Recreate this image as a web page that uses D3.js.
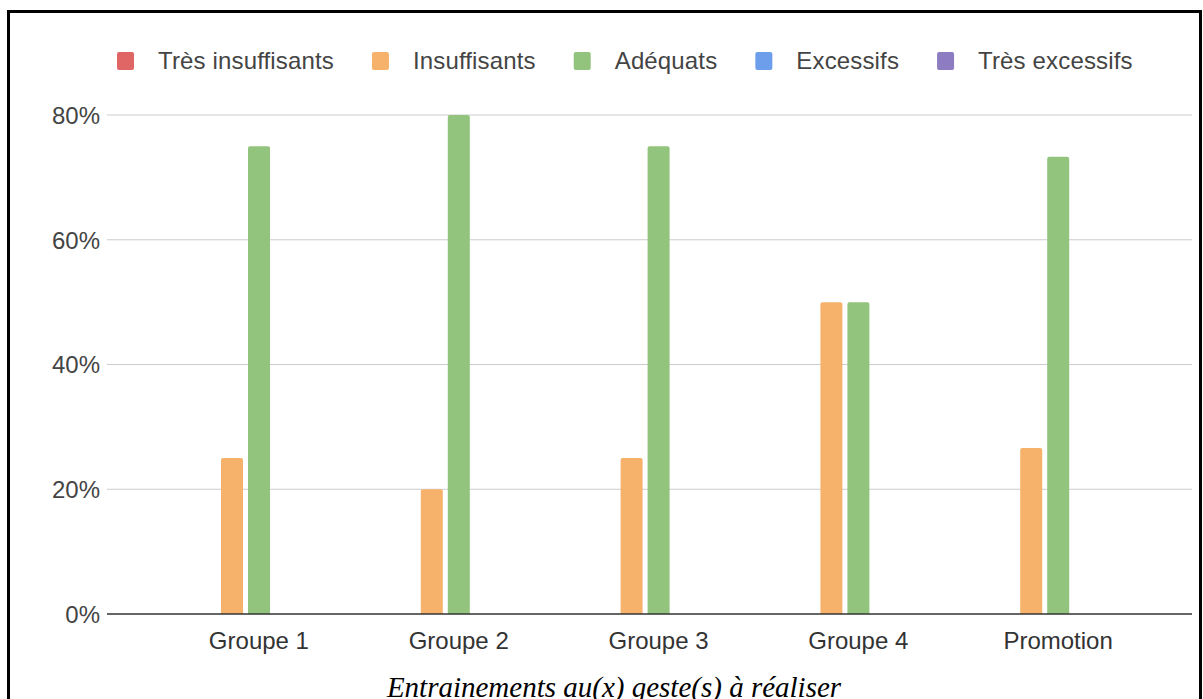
<!DOCTYPE html>
<html>
<head>
<meta charset="utf-8">
<script src="https://cdn.jsdelivr.net/npm/d3@7"></script>
<style>
html,body{margin:0;padding:0;background:#fff;}
svg{display:block;}
</style>
</head>
<body>
<script>
const categories = ["Groupe 1", "Groupe 2", "Groupe 3", "Groupe 4", "Promotion"];
const seriesNames = ["Très insuffisants", "Insuffisants", "Adéquats", "Excessifs", "Très excessifs"];
const seriesColors = ["#e06666", "#f6b26b", "#93c47d", "#6d9eeb", "#8e7cc3"];
const tresInsuffisants = [0, 0, 0, 0, 0];
const insuffisants = [25, 20, 25, 50, 26.6];
const adequats = [75, 80, 75, 50, 73.3];
const excessifs = [0, 0, 0, 0, 0];
const tresExcessifs = [0, 0, 0, 0, 0];
const yTicks = [0, 20, 40, 60, 80];
const chartTitle = "Entrainements au(x) geste(s) à réaliser";

const seriesValues = [tresInsuffisants, insuffisants, adequats, excessifs, tresExcessifs];

const W = 1203, H = 699;
const svg = d3.select("body").append("svg").attr("width", W).attr("height", H);

// frame
svg.append("rect").attr("x", 8.5).attr("y", 11.5).attr("width", 1192).attr("height", 800)
  .attr("fill", "none").attr("stroke", "#000").attr("stroke-width", 3);

const gridLeft = 107, gridRight = 1192;
const y = d3.scaleLinear().domain([0, 80]).range([614, 115]);
const x0 = d3.scaleBand().domain(categories).range([159, 1158]).padding(0);
const x1 = d3.scaleBand().domain(seriesNames).range([35, 165]).paddingInner(5/27).paddingOuter(0);

const font = "Arial, 'Liberation Sans', sans-serif";

// gridlines
svg.append("g").selectAll("line").data(yTicks.filter(d => d > 0)).join("line")
  .attr("x1", gridLeft).attr("x2", gridRight)
  .attr("y1", d => y(d)).attr("y2", d => y(d))
  .attr("stroke", "#cccccc").attr("stroke-width", 1);

// y axis labels
const yAxis = d3.axisLeft(y).tickValues(yTicks).tickFormat(d => d + "%").tickSize(0).tickPadding(0);
const yg = svg.append("g").attr("transform", `translate(${gridLeft - 7},0)`).call(yAxis);
yg.select(".domain").remove();
yg.selectAll("text").attr("font-family", font).attr("font-size", 24).attr("fill", "#444").attr("dy", "0.35em");

// bars
const groups = svg.append("g").selectAll("g").data(categories).join("g")
  .attr("transform", d => `translate(${x0(d)},0)`);
groups.selectAll("path").data((c, ci) => seriesNames.map((s, si) => ({s, si, v: seriesValues[si][ci]})).filter(d => d.v > 0))
  .join("path")
  .attr("fill", d => seriesColors[d.si])
  .attr("d", d => {
    const bx = x1(d.s), bw = x1.bandwidth(), top = y(d.v), bot = y(0), r = 2;
    return `M${bx},${bot} L${bx},${top + r} Q${bx},${top} ${bx + r},${top} L${bx + bw - r},${top} Q${bx + bw},${top} ${bx + bw},${top + r} L${bx + bw},${bot} Z`;
  });

// baseline axis
svg.append("line").attr("x1", gridLeft).attr("x2", gridRight).attr("y1", y(0)).attr("y2", y(0))
  .attr("stroke", "#333").attr("stroke-width", 1.5);

// x axis labels
const xAxis = d3.axisBottom(x0).tickSize(0).tickPadding(0);
const xg = svg.append("g").attr("transform", `translate(0,${y(0) + 27})`).call(xAxis);
xg.select(".domain").remove();
xg.selectAll("text").attr("font-family", font).attr("font-size", 24).attr("fill", "#333").attr("dy", "0.35em");

// legend
const lg = svg.append("g");
let lx = 117;
seriesNames.forEach((name, i) => {
  const item = lg.append("g");
  item.append("rect").attr("x", lx).attr("y", 52).attr("width", 17).attr("height", 18).attr("rx", 2)
    .attr("fill", seriesColors[i]);
  const t = item.append("text").attr("x", lx + 41).attr("y", 61).attr("dy", "0.35em")
    .attr("font-family", font).attr("font-size", 24).attr("letter-spacing", 0.15).attr("fill", "#444").text(name);
  const w = t.node().getComputedTextLength();
  lx = lx + 41 + w + 38;
});

// title
svg.append("text").attr("x", 614).attr("y", 697).attr("text-anchor", "middle")
  .attr("font-family", "'Liberation Serif', 'Times New Roman', serif").attr("font-style", "italic")
  .attr("font-size", 29).attr("fill", "#000").text(chartTitle);
</script>
</body>
</html>
